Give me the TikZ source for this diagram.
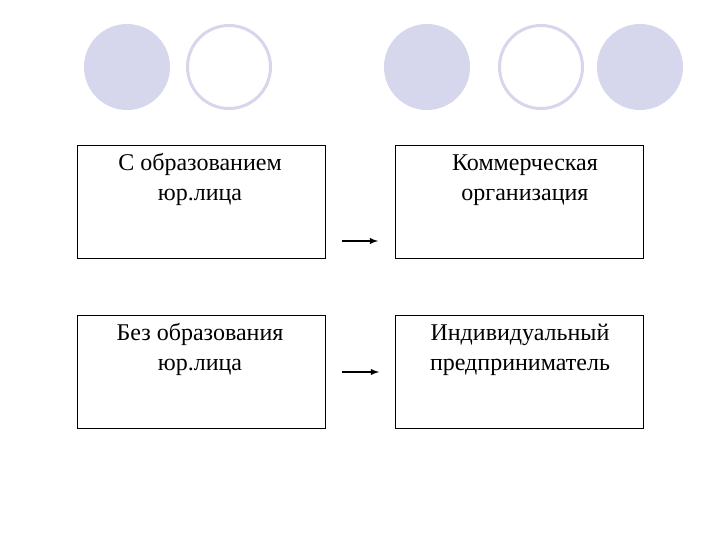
\documentclass[tikz,border=0pt]{standalone}
\usepackage{fontspec}
\setmainfont{Liberation Serif}
\usetikzlibrary{arrows}
\definecolor{lilac}{RGB}{214,214,236}

\begin{document}
\begin{tikzpicture}[->,>=latex,x=1pt,y=-1pt,line width=1.8pt,
  form box/.style={draw,line width=0.8pt,minimum width=248pt,minimum height=113pt,inner sep=0pt},
  box text/.style={font=\fontsize{24}{30}\selectfont,align=center,anchor=base,inner sep=0pt},
  full dot/.style={circle,fill=lilac,minimum size=86pt,inner sep=0pt},
  ring dot/.style={circle,draw=lilac,line width=3pt,minimum size=83pt,inner sep=0pt}]

  \useasboundingbox (0,0) rectangle (720,540);

  \node[full dot] (c1) at (127,67) {};
  \node[ring dot] (c2) at (229,67) {};
  \node[full dot] (c3) at (427,67) {};
  \node[ring dot] (c4) at (541,67) {};
  \node[full dot] (c5) at (640,67) {};

  \node[form box] (with) at (201,201.5) {};
  \node[form box] (comm) at (519,201.5) {};
  \node[form box] (without) at (201,371.5) {};
  \node[form box] (indiv) at (519,371.5) {};

  \node[box text] (withtxt) at (200,201) {С образованием\\юр.лица};
  \node[box text] (commtxt) at (525,201) {Коммерческая\\организация};
  \node[box text] (withouttxt) at (200,370) {Без образования\\юр.лица};
  \node[box text] (indivtxt) at (520,370) {Индивидуальный\\предприниматель};

  \coordinate (a1) at (342,241);
  \coordinate (b1) at (378,241);
  \coordinate (a2) at (342,372);
  \coordinate (b2) at (379,372);

  \path (a1) edge (b1)
        (a2) edge (b2);

\end{tikzpicture}
\end{document}
